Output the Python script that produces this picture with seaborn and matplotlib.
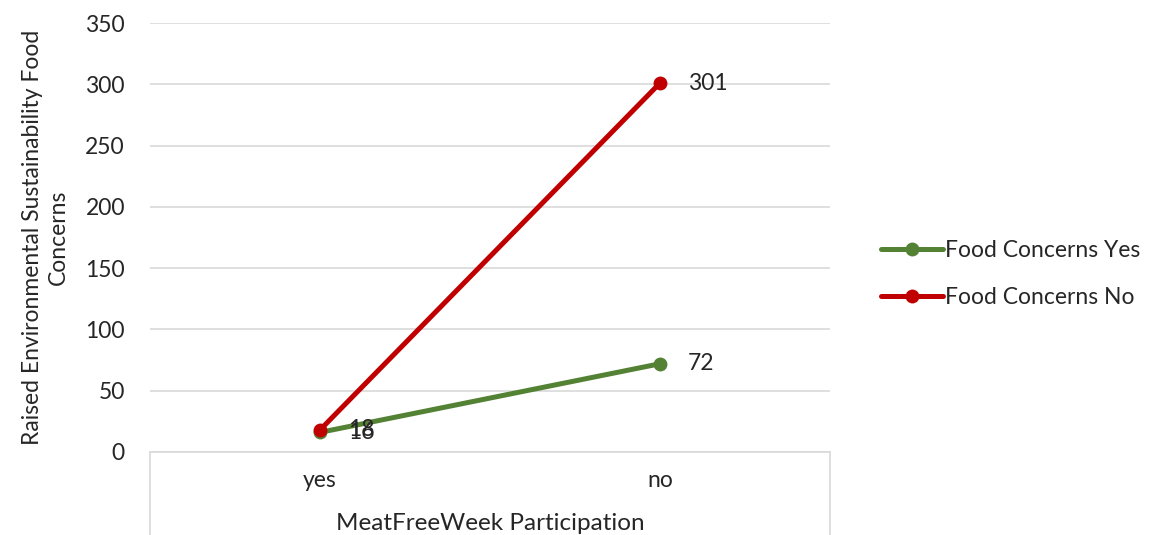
import matplotlib
matplotlib.use("Agg")
import matplotlib.pyplot as plt
import seaborn as sns
import pandas as pd

# Data
participation = ["yes", "no"]
food_concerns_yes = [16, 72]
food_concerns_no = [18, 301]
series_names = ["Food Concerns Yes", "Food Concerns No"]
y_ticks = [0, 50, 100, 150, 200, 250, 300, 350]

sns.set_theme(style="white")
plt.rcParams["font.family"] = ["Lato", "DejaVu Sans"]

df = pd.DataFrame({
    "MeatFreeWeek Participation": participation * 2,
    "count": food_concerns_yes + food_concerns_no,
    "series": [series_names[0]] * 2 + [series_names[1]] * 2,
})

colors = {series_names[0]: "#548235", series_names[1]: "#C00000"}
fs = 16.5
txt = "#262626"

fig = plt.figure(figsize=(11.52, 5.35), dpi=100)
ax = fig.add_axes([150 / 1152, 1 - 452 / 535, 680 / 1152, 429 / 535])

sns.lineplot(data=df, x="MeatFreeWeek Participation", y="count", hue="series",
             palette=colors, marker="o", markersize=10, markeredgewidth=0,
             linewidth=3.6, sort=False, ax=ax)

ax.set_xlim(-0.5, 1.5)
ax.set_ylim(0, 350)
ax.set_yticks(y_ticks)
ax.yaxis.grid(True, color="#D9D9D9", linewidth=1.2)
ax.xaxis.grid(False)
for side in ["top", "right", "left"]:
    ax.spines[side].set_visible(False)
ax.spines["bottom"].set_color("#D9D9D9")
ax.spines["bottom"].set_linewidth(1.2)

ax.tick_params(axis="y", length=0, pad=18, labelsize=fs, labelcolor=txt)
ax.tick_params(axis="x", length=0, pad=13, labelsize=fs, labelcolor=txt)

ax.set_ylabel("Raised Environmental Sustainability Food\nConcerns",
              fontsize=fs, color=txt, labelpad=12, linespacing=1.3)
ax.set_xlabel("MeatFreeWeek Participation", fontsize=17.5, color=txt, labelpad=16)

# Vertical borders of the category axis area
for xa in (0, 1):
    ax.plot([xa, xa], [0, -0.22], transform=ax.transAxes, color="#D9D9D9",
            linewidth=1.2, clip_on=False)

# Value labels to the right of each point
for name, vals in zip(series_names, [food_concerns_yes, food_concerns_no]):
    for i, v in enumerate(vals):
        ax.annotate(str(v), (i, v), xytext=(20, 0), textcoords="offset points",
                    va="center", ha="left", fontsize=fs, color=txt)

handles, labels = ax.get_legend_handles_labels()
ax.legend(handles, labels, loc="center left", bbox_to_anchor=(1.045, 0.415),
          frameon=False, fontsize=fs, handlelength=2.7, handletextpad=0.1,
          labelspacing=1.15, labelcolor=txt)

fig.savefig("out.png", dpi=100)
